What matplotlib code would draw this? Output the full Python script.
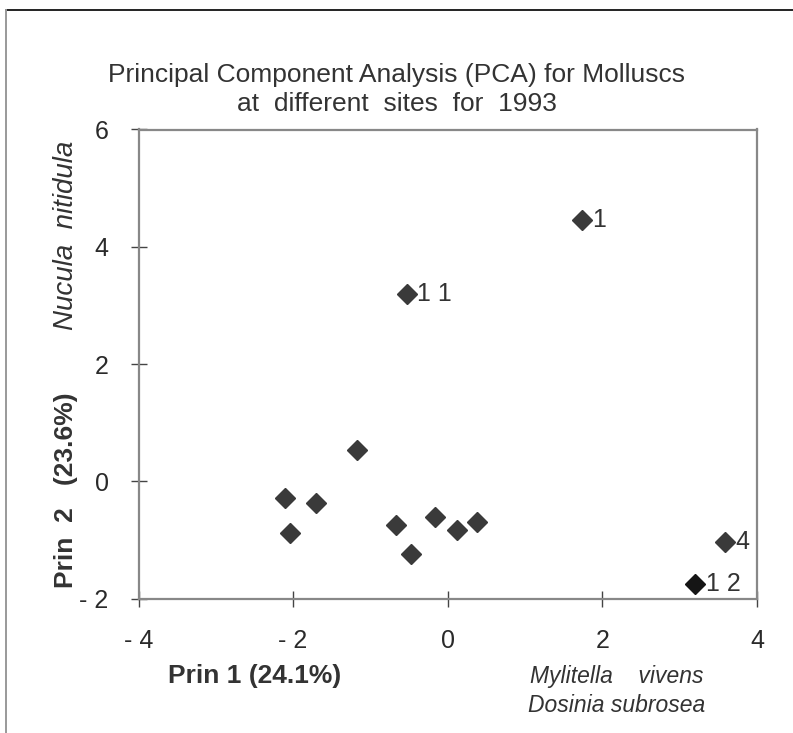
import matplotlib
matplotlib.use("Agg")
import matplotlib.pyplot as plt
from matplotlib.lines import Line2D

plt.rcParams['font.family'] = ['Liberation Sans', 'DejaVu Sans']

# Data: PCA scores (Prin 1, Prin 2) per site
prin1 = [1.73, -0.53, -1.18, -2.11, -1.70, -2.04, -0.67, -0.47, -0.16, 0.12, 0.38, 3.58, 3.20]
prin2 = [4.46, 3.20, 0.53, -0.29, -0.37, -0.88, -0.74, -1.24, -0.60, -0.83, -0.70, -1.03, -1.75]
site_labels = ["1", "1 1", "", "", "", "", "", "", "", "", "", "4", "1 2"]
point_colors = ["#3a3a3a"] * 12 + ["#151515"]

xticks = [-4, -2, 0, 2, 4]
xticklabels = ["- 4", "- 2", "0", "2", "4"]
yticks = [-2, 0, 2, 4, 6]
yticklabels = ["- 2", "0", "2", "4", "6"]

title_lines = ["Principal Component Analysis (PCA) for Molluscs",
               "at  different  sites  for  1993"]

W, H = 793, 733
fig = plt.figure(figsize=(W / 100, H / 100), dpi=100)
fig.patch.set_facecolor("white")

ax = fig.add_axes([138.5 / W, 1 - 598.7 / H, (757 - 138.5) / W, (598.7 - 129.5) / H])
ax.set_xlim(-4, 4)
ax.set_ylim(-2, 6)

for x, y, c in zip(prin1, prin2, point_colors):
    ax.plot([x], [y], marker="D", markersize=9.8, color=c, markeredgecolor=c,
            markeredgewidth=1.0, linestyle="none")

for x, y, lab in zip(prin1, prin2, site_labels):
    if lab:
        ax.annotate(lab, (x, y), xytext=(7.5, 0), textcoords="offset points",
                    ha="left", va="center", fontsize=18, color="#333333")

ax.set_xticks(xticks)
ax.set_xticklabels(xticklabels)
ax.set_yticks(yticks)
ax.set_yticklabels(yticklabels)
ax.tick_params(axis="both", direction="inout", length=11, width=1.0,
               color="#444444", labelsize=18, labelcolor="#2a2a2a")
ax.tick_params(axis="x", pad=16)
ax.tick_params(axis="y", pad=16)
for s in ax.spines.values():
    s.set_color("#888888")
    s.set_linewidth(1.6)

# Title
fig.text(0.5, 1 - 75 / H, title_lines[0], ha="center", va="center",
         fontsize=19, color="#333333")
fig.text(0.5, 1 - 104 / H, title_lines[1], ha="center", va="center",
         fontsize=19, color="#333333")

# Axis labels
fig.text(66 / W, 1 - 490 / H, "Prin  2   (23.6%)", rotation=90, ha="center",
         va="center", fontsize=19, fontweight="bold", color="#333333")
fig.text(66 / W, 1 - 235 / H, "Nucula  nitidula", rotation=90, ha="center",
         va="center", fontsize=20, fontstyle="italic", color="#333333")
fig.text(255 / W, 1 - 676 / H, "Prin 1 (24.1%)", ha="center", va="center",
         fontsize=19, fontweight="bold", color="#333333")
fig.text(617 / W, 1 - 676 / H, "Mylitella    vivens", ha="center", va="center",
         fontsize=16.5, fontstyle="italic", color="#333333")
fig.text(617 / W, 1 - 705 / H, "Dosinia subrosea", ha="center", va="center",
         fontsize=16.5, fontstyle="italic", color="#333333")

# Frame lines (top and left) of the original scanned figure
fig.add_artist(Line2D([6 / W, 1.0], [1 - 10 / H, 1 - 10 / H], transform=fig.transFigure,
                      color="#222222", lw=1.4))
fig.add_artist(Line2D([6 / W, 6 / W], [0.0, 1 - 10 / H], transform=fig.transFigure,
                      color="#999999", lw=1.4))

fig.savefig("out.png", dpi=100)
